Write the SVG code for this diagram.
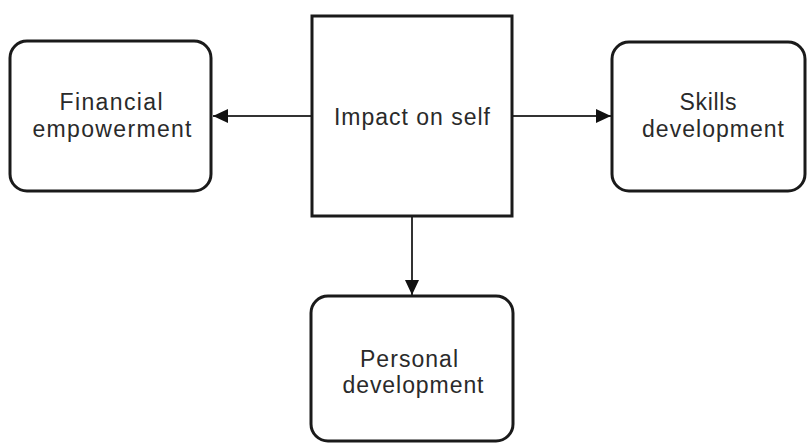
<svg xmlns="http://www.w3.org/2000/svg" width="807" height="444" viewBox="0 0 807 444">
  <style>
    .box { fill: #ffffff; stroke: #1a1a1a; stroke-width: 3; }
    .edge { fill: none; stroke: #333333; stroke-width: 2; }
    .label { font-family: "Liberation Sans", Arial, sans-serif; font-size: 23px; fill: #2a2a2a; text-anchor: middle; }
  </style>
  <defs>
    <marker id="arrow" markerWidth="16" markerHeight="14" refX="15" refY="7" orient="auto" markerUnits="userSpaceOnUse">
      <path d="M0,0 L15,7 L0,14 Z" fill="#111111"/>
    </marker>
  </defs>
  <rect width="807" height="444" fill="#ffffff"/>

  <g id="connectors">
    <line class="edge" x1="312" y1="116" x2="213" y2="116" marker-end="url(#arrow)"/>
    <line class="edge" x1="512" y1="116" x2="611" y2="116" marker-end="url(#arrow)"/>
    <line class="edge" x1="412" y1="216" x2="412" y2="295" marker-end="url(#arrow)"/>
  </g>

  <g id="impact-on-self">
    <rect class="box" x="312" y="16" width="200" height="200"/>
    <text class="label" x="412" y="125" textLength="156" lengthAdjust="spacing">Impact on self</text>
  </g>

  <g id="financial-empowerment">
    <rect class="box" x="10" y="41" width="201" height="150" rx="17" ry="17"/>
    <text class="label" x="111" y="110" textLength="103" lengthAdjust="spacing">Financial</text>
    <text class="label" x="112" y="137" textLength="159" lengthAdjust="spacing">empowerment</text>
  </g>

  <g id="skills-development">
    <rect class="box" x="612" y="42" width="193" height="149" rx="17" ry="17"/>
    <text class="label" x="708" y="110" textLength="57" lengthAdjust="spacing">Skills</text>
    <text class="label" x="713" y="137" textLength="142" lengthAdjust="spacing">development</text>
  </g>

  <g id="personal-development">
    <rect class="box" x="311" y="296" width="202" height="145" rx="17" ry="17"/>
    <text class="label" x="409" y="367" textLength="98" lengthAdjust="spacing">Personal</text>
    <text class="label" x="413" y="393" textLength="141" lengthAdjust="spacing">development</text>
  </g>
</svg>
